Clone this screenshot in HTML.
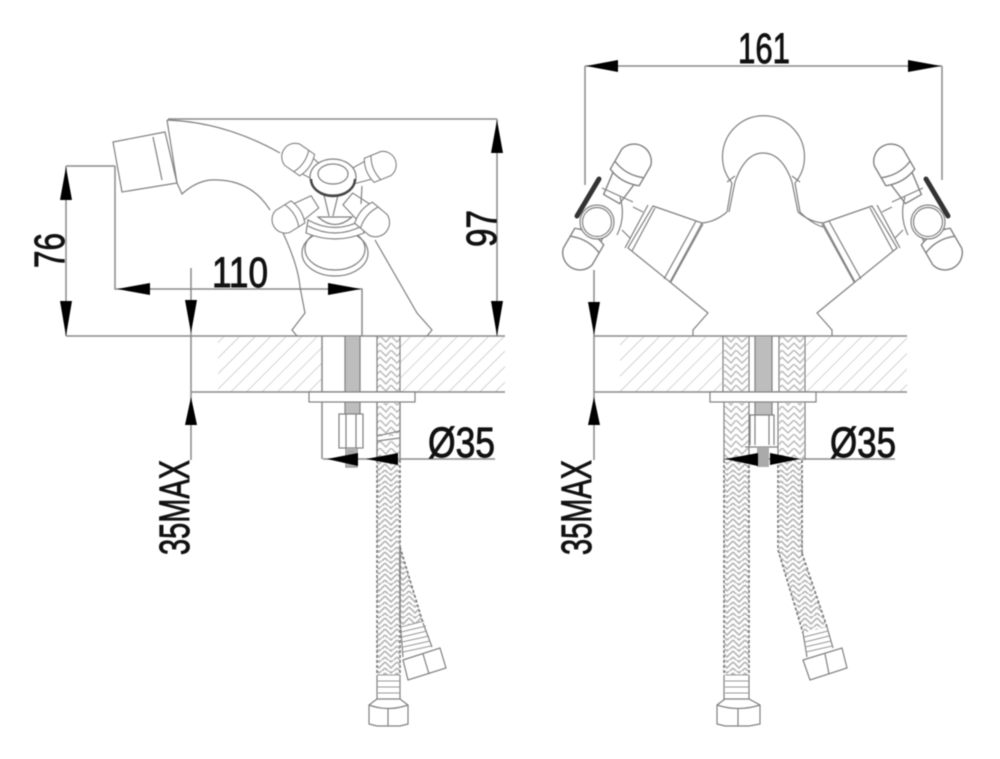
<!DOCTYPE html>
<html><head><meta charset="utf-8"><style>
html,body{margin:0;padding:0;background:#fff;width:1000px;height:759px;overflow:hidden}
svg{display:block;filter:blur(.6px)}
text{font-family:"Liberation Sans",sans-serif;font-size:43px;fill:#111;stroke:#111;stroke-width:.9}
.l{fill:none;stroke:#808080;stroke-width:1.2}
.w{fill:#fff;stroke:#808080;stroke-width:1.2}
.d{fill:none;stroke:#8a8a8a;stroke-width:1.5}
.e{fill:none;stroke:#777;stroke-width:1.6;stroke-dasharray:3 2}
.a{fill:#000;stroke:none}
.h{fill:url(#hatch);stroke:none}
.t{fill:none;stroke:#999;stroke-width:1.1}
</style></head><body>
<svg width="1000" height="759" viewBox="0 0 1000 759" xmlns="http://www.w3.org/2000/svg">
<defs>
<pattern id="hatch" width="11" height="11" patternUnits="userSpaceOnUse" patternTransform="rotate(45)"><line x1="0" y1="0" x2="0" y2="11" stroke="#bdbdbd" stroke-width="1.3" /></pattern>
<pattern id="braid" x="1" width="12" height="11" patternUnits="userSpaceOnUse"><path d="M0 -4L6 2L12 -4M0 2L6 8L12 2M0 8L6 14L12 8" fill="none" stroke="#b4b4b4" stroke-width="1.6"/></pattern>
<pattern id="braidW" width="23" height="14" patternUnits="userSpaceOnUse"><path d="M0 0L6 6L12 0L18 6L23 0M0 7L6 13L12 7L18 13L23 7M0 -7L6 -1L12 -7L18 -1L23 -7" fill="none" stroke="#bbb" stroke-width="1.5"/></pattern>
<g id="arm">
  <path class="w" d="M8 -8L32 -11V11L8 8Z"/>
  <path class="w" d="M30 -14H50A15 15 0 0 1 50 15H30Q24 0 30 -14Z"/>
  <path class="l" d="M38 -14Q32 0 38 15"/>
</g>
<g id="handle">
  <use href="#arm" transform="translate(607,207) rotate(-60) scale(1.15)"/>
  <use href="#arm" transform="translate(607,207) rotate(120) scale(1.15)"/>
  <path class="l" d="M602 188L633 202M620 197Q626 217 617 235M633 207L643 212M622 230L630 238"/>
  <circle class="w" cx="597" cy="222" r="17"/>
  <circle class="l" cx="597" cy="222" r="14.5"/>
  <path d="M599 179L577 216" stroke="#333" stroke-width="5" stroke-linecap="round"/>
  <path class="w" d="M653 206L702 223L670 282L628 248Z"/>
  <path class="l" d="M648 205L625 248M655 208L632 251M696 221L664 279M703 224L671 282"/>
  <path class="l" d="M670 282L708 313L693 330L693 336M702 223Q715 222 727 212"/>
</g>
</defs>

<!-- Left base -->
<path class="h" d="M218 337H322V392H218ZM400 337H505V392H400Z"/>
<path class="d" d="M66 336H505M191 392H505M168 119H497M497 119V336M66 166H115M66 166V336M115 166V289H362V336M191 268V460M322 336V459M323 459H495"/>
<rect x="377" y="337" width="23" height="55" fill="url(#braidW)"/>
<path class="l" d="M377 336V460M400 336V460"/>
<rect x="345" y="337" width="15" height="78" fill="#bdbdbd"/>
<path class="l" d="M345 336V414M360 336V414"/>
<rect x="309" y="392" width="106" height="10" class="w"/>
<rect x="377" y="403" width="23" height="33" fill="url(#braidW)"/>
<rect x="377" y="441" width="23" height="20" fill="url(#braidW)"/>
<path class="l" d="M377 402V436M400 402V460M377 441V460M377 436L400 431M377 441L400 438"/>
<rect x="339" y="414" width="24" height="34" class="w"/>
<path class="l" d="M346 414V448M356 414V448"/>
<path class="l" d="M346 448V467H357V448"/>
<rect x="347" y="449" width="9" height="18" fill="#aaa"/>

<!-- Left lower hoses -->
<path d="M400 547L423 623L401 625Z" fill="url(#braid)"/>
<path class="e" d="M400 547L423 623M400 547V620"/>
<path class="l" d="M400 620L403 657M423 623L432 647"/>
<path class="t" d="M401 627L424 621M401 632L426 626M402 637L427 631M402 642L429 636M403 647L430 641M403 652L431 646"/>
<path class="w" d="M403 660L440 648L446 668L408 680Z"/>
<path class="l" d="M423 654L429 674"/>
<rect x="377" y="460" width="23" height="215" fill="url(#braid)"/>
<path class="e" d="M377 460V675M400 460V675"/>
<path class="l" d="M377 675V700M400 675V700"/>
<path class="t" d="M377 675H400M377 681H400M377 687H400M377 693H400"/>
<path class="w" d="M369 705L377 699H400L408 705V724L400 726H377L369 724Z"/>
<path class="l" d="M369 705Q388 712 408 705M388 708V726"/>

<!-- Left faucet -->
<path class="l" d="M167 120Q225 122 280 153M167 120L177 183L182 194Q195 182 210 180Q250 178 270 210M283 233Q298 265 300 287L305 313L292 330L297 336M375 240L417 313L432 330L427 336"/>
<path class="w" d="M113 142L165 132L177 183L122 192Z"/>
<path class="l" d="M153 137L162 180"/>
<ellipse class="l" cx="335" cy="253" rx="33" ry="23"/>
<ellipse class="l" cx="335" cy="249" rx="30" ry="21"/>
<path class="w" d="M308 220Q335 235 362 220L364 233Q335 245 306 233Z"/>
<path class="l" d="M308 226Q335 240 362 226"/>
<path class="l" d="M318 217Q335 232 352 217Z"/>
<path class="l" d="M324 195L329 216M338 195L333 216"/>
<use href="#arm" transform="translate(329,181) rotate(215) scale(.9)"/>
<use href="#arm" transform="translate(344,180) rotate(-22) scale(.9)"/>
<use href="#arm" transform="translate(321,198) rotate(148) scale(.9)"/>
<use href="#arm" transform="translate(342,194) rotate(40) scale(.95)"/>
<ellipse class="w" cx="333" cy="177" rx="23" ry="18"/>
<path d="M311 179A22 17 0 0 0 355 179" fill="none" stroke="#444" stroke-width="2.4"/>
<ellipse class="l" cx="333" cy="174" rx="15" ry="10"/>
<path class="l" d="M362 186L361 204"/>

<!-- Left arrows -->
<polygon class="a" points="497,120 491,153 503,153"/>
<polygon class="a" points="497,336 491,301 503,301"/>
<polygon class="a" points="66,167 60,200 72,200"/>
<polygon class="a" points="66,336 60,301 72,301"/>
<polygon class="a" points="117,289 150,283 150,295"/>
<polygon class="a" points="361,289 328,283 328,295"/>
<polygon class="a" points="191,333 185,300 197,300"/>
<polygon class="a" points="191,397 185,425 197,425"/>
<polygon class="a" points="327,459 358,453 358,466"/>
<polygon class="a" points="366,459 398,453 398,465"/>

<text x="212" y="287" textLength="56" lengthAdjust="spacingAndGlyphs">110</text>
<text transform="translate(64,268) rotate(-90)" textLength="35" lengthAdjust="spacingAndGlyphs">76</text>
<text transform="translate(496,247) rotate(-90)" textLength="37" lengthAdjust="spacingAndGlyphs">97</text>
<text transform="translate(189,555) rotate(-90)" textLength="95" lengthAdjust="spacingAndGlyphs">35MAX</text>
<text x="428" y="457" textLength="67" lengthAdjust="spacingAndGlyphs">Ø35</text>

<!-- Right base -->
<path class="h" d="M620 337H722V392H620ZM806 337H907V392H806Z"/>
<path class="d" d="M594 336H907M594 392H907M585 66H942M585 66V185M942 66V180M594 270V460M724 459H895"/>
<rect x="724" y="337" width="24" height="55" fill="url(#braidW)"/>
<rect x="780" y="337" width="24" height="55" fill="url(#braidW)"/>
<rect x="755" y="337" width="17" height="78" fill="#bdbdbd"/>
<path class="l" d="M723 336V392M749 336V392M779 336V392M805 336V392M755 336V415M772 336V415"/>
<rect x="710" y="392" width="106" height="10" class="w"/>
<rect x="724" y="403" width="25" height="57" fill="url(#braidW)"/>
<rect x="779" y="403" width="25" height="57" fill="url(#braidW)"/>
<rect x="724" y="460" width="25" height="215" fill="url(#braid)"/>
<rect x="779" y="460" width="24" height="92" fill="url(#braid)"/>
<path class="e" d="M724 460V675M749 460V675M778 460V550M802 460V553"/>
<path class="l" d="M724 402V460M749 402V460M778 402V460M805 402V460M724 675V700M749 675V700"/>
<rect x="750" y="415" width="24" height="30" class="w" style="stroke:none"/>
<path class="l" d="M750 445V415H774V445M755 415V445M769 415V445M745 447H778"/>
<rect x="757" y="447" width="12" height="20" fill="#aaa"/>
<path d="M778 550L802 553L827 627L803 633Z" fill="url(#braid)"/>
<path class="e" d="M778 550L803 633M802 553L827 627"/>
<path class="l" d="M803 633L807 657M827 627L833 648"/>
<path class="t" d="M804 637L828 631M805 642L829 636M805 647L831 641M806 652L832 646"/>
<path class="w" d="M803 660L842 648L847 668L810 680Z"/>
<path class="l" d="M825 654L829 674"/>
<path class="t" d="M725 675H749M725 681H749M725 687H749M725 693H749"/>
<path class="w" d="M717 705L725 699H749L760 705V724L749 726H725L717 724Z"/>
<path class="l" d="M717 705Q738 712 760 705M738 708V726"/>

<!-- Right faucet -->
<path class="l" d="M732 183A41 41 0 1 1 795 183M735 182Q745 153 763 153Q782 153 792 182M727 182L735 176M800 182L792 176M732 183L727 212M795 183L800 212M735 182L729 212M792 182L798 212M800 212Q812 224 823 227"/>
<use href="#handle"/>
<g transform="translate(1525,0) scale(-1,1)"><use href="#handle"/></g>

<!-- Right arrows -->
<polygon class="a" points="586,66 618,60 618,72"/>
<polygon class="a" points="941,66 908,60 908,72"/>
<polygon class="a" points="594,335 588,302 600,302"/>
<polygon class="a" points="594,397 588,425 600,425"/>
<polygon class="a" points="725,459 758,453 758,466"/>
<polygon class="a" points="800,459 770,453 770,465"/>

<text x="738" y="63" textLength="52" lengthAdjust="spacingAndGlyphs">161</text>
<text transform="translate(591,555) rotate(-90)" textLength="95" lengthAdjust="spacingAndGlyphs">35MAX</text>
<text x="830" y="457" textLength="66" lengthAdjust="spacingAndGlyphs">Ø35</text>
</svg>
</body></html>
